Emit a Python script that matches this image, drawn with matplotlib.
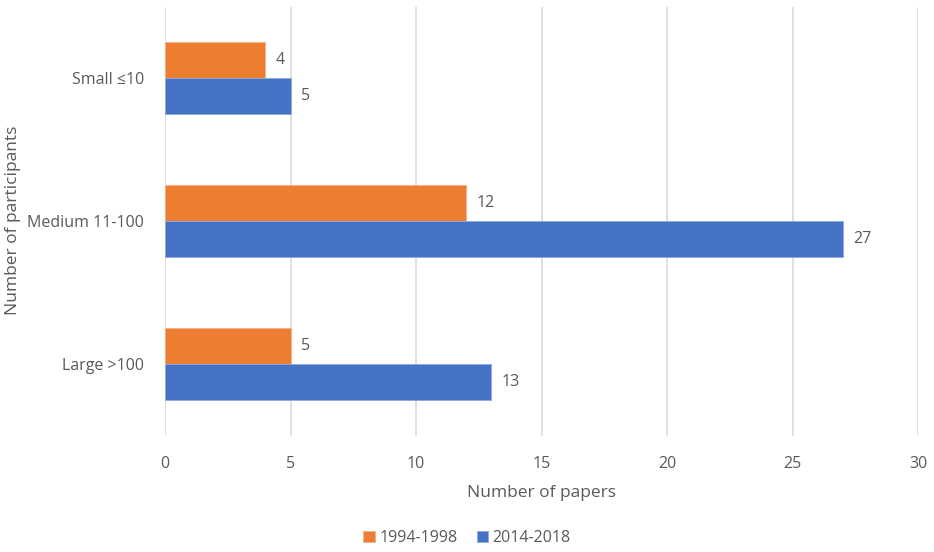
import matplotlib
matplotlib.use("Agg")
import matplotlib.pyplot as plt
import numpy as np

# participant-size groups, top to bottom
categories = ["Small ≤10", "Medium 11-100", "Large >100"]
series_names = ["1994-1998", "2014-2018"]
papers_1994 = [4, 12, 5]
papers_2014 = [5, 27, 13]
x_ticks = [0, 5, 10, 15, 20, 25, 30]

ORANGE = "#ED7D31"
BLUE = "#4472C4"
TEXT = "#595959"
GRID = "#D9D9D9"

plt.rcParams["font.family"] = ["Open Sans", "DejaVu Sans"]

fig = plt.figure(figsize=(9.34, 5.52), dpi=100)
ax = fig.add_axes([0.1767, 0.211, 0.8063, 0.777])

y = np.arange(len(categories))
h = 0.25

b1 = ax.barh(y - h / 2, papers_1994, height=h, color=ORANGE,
             edgecolor="#F4B183", linewidth=0.6, label=series_names[0], zorder=3)
b2 = ax.barh(y + h / 2, papers_2014, height=h, color=BLUE,
             edgecolor="#8FAADC", linewidth=0.6, label=series_names[1], zorder=3)

for bars, vals in ((b1, papers_1994), (b2, papers_2014)):
    for bar, v in zip(bars, vals):
        ax.text(v + 0.42, bar.get_y() + bar.get_height() / 2, str(v),
                va="center", ha="left", fontsize=11.5, color=TEXT)

ax.set_xlim(0, 30)
ax.set_ylim(len(categories) - 0.5, -0.5)
ax.set_xticks(x_ticks)
ax.set_yticks(y)
ax.set_yticklabels(categories)
ax.tick_params(axis="both", length=0, labelsize=11.5, colors=TEXT)
ax.tick_params(axis="x", pad=15)
ax.tick_params(axis="y", pad=15)

ax.grid(axis="x", color=GRID, linewidth=1.2, zorder=0)
for s in ax.spines.values():
    s.set_visible(False)

ax.set_xlabel("Number of papers", fontsize=12.5, color=TEXT, labelpad=9)
# y title sits close to the left edge, placed in figure coords
fig.text(13 / 934, 1 - 220 / 552, "Number of participants", rotation=90,
         ha="center", va="center", fontsize=12.5, color=TEXT)

fig.legend(handles=[b1, b2], labels=series_names, loc="lower center",
           bbox_to_anchor=(0.5, -0.015), ncol=2, frameon=False, fontsize=11.5,
           handlelength=0.7, handleheight=0.7, handletextpad=0.3,
           columnspacing=1.2, labelcolor=TEXT)

fig.savefig("out.png", dpi=100, facecolor="white")
